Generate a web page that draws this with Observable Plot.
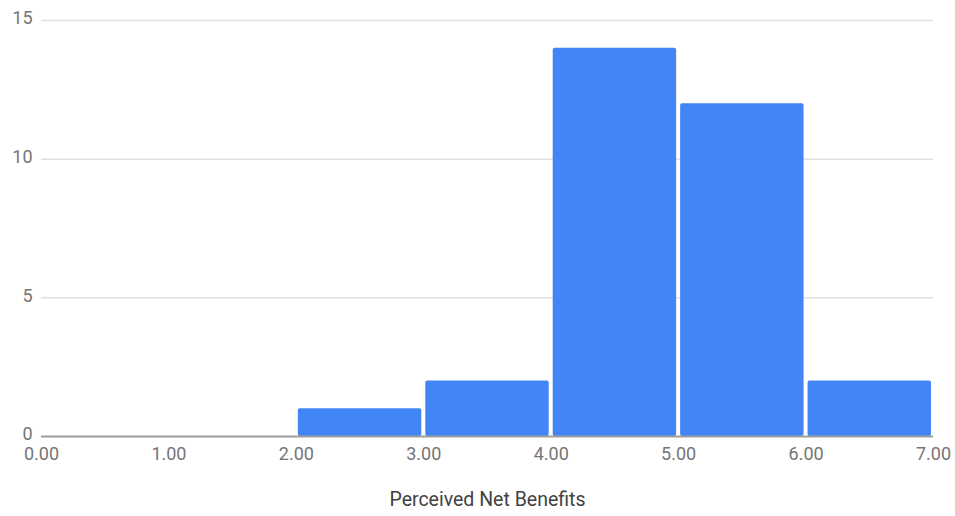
<!DOCTYPE html>
<html>
<head>
<meta charset="utf-8">
<script src="https://cdn.jsdelivr.net/npm/d3@7"></script>
<script src="https://cdn.jsdelivr.net/npm/@observablehq/plot@0.6"></script>
<style>
  html, body { margin: 0; padding: 0; background: #fff; }
  #chart svg { display: block; }
</style>
</head>
<body>
<div id="chart"></div>
<script>
// Histogram of "Perceived Net Benefits" scores
const binStarts = [2, 3, 4, 5, 6];
const binEnds = [3, 4, 5, 6, 7];
const counts = [1, 2, 14, 12, 2];
const xTicks = [0, 1, 2, 3, 4, 5, 6, 7];
const yTicks = [0, 5, 10, 15];
const xLabel = "Perceived Net Benefits";

const bins = binStarts.map((x1, i) => ({ x1, x2: binEnds[i], count: counts[i] }));

const chart = Plot.plot({
  width: 955,
  height: 516,
  marginLeft: 41,
  marginRight: 22,
  marginTop: 20,
  marginBottom: 80,
  style: { fontFamily: "Roboto, sans-serif", fontSize: "18px", background: "#fff" },
  x: { domain: [0, 7] },
  y: { domain: [0, 15] },
  marks: [
    Plot.ruleY(yTicks.filter(d => d > 0), { stroke: "#e0e0e0", strokeWidth: 1.5 }),
    Plot.rectY(bins, {
      x1: "x1", x2: "x2", y: "count",
      fill: "#4285f4", insetLeft: 2, insetRight: 2, rx: 2
    }),
    Plot.ruleY([0], { stroke: "#9e9e9e", strokeWidth: 2 }),
    Plot.axisY({
      ticks: yTicks, tickSize: 0, tickPadding: 9, label: null,
      fill: "#757575", fontSize: 18, dy: -2
    }),
    Plot.axisX({
      ticks: xTicks, tickSize: 0, tickPadding: 11, label: null,
      tickFormat: d => d.toFixed(2), fill: "#757575", fontSize: 18
    }),
    Plot.text([xLabel], {
      frameAnchor: "bottom", dy: 69, text: d => d,
      fill: "#424242", fontSize: 19.5
    })
  ]
});

document.getElementById("chart").appendChild(chart);
</script>
</body>
</html>
